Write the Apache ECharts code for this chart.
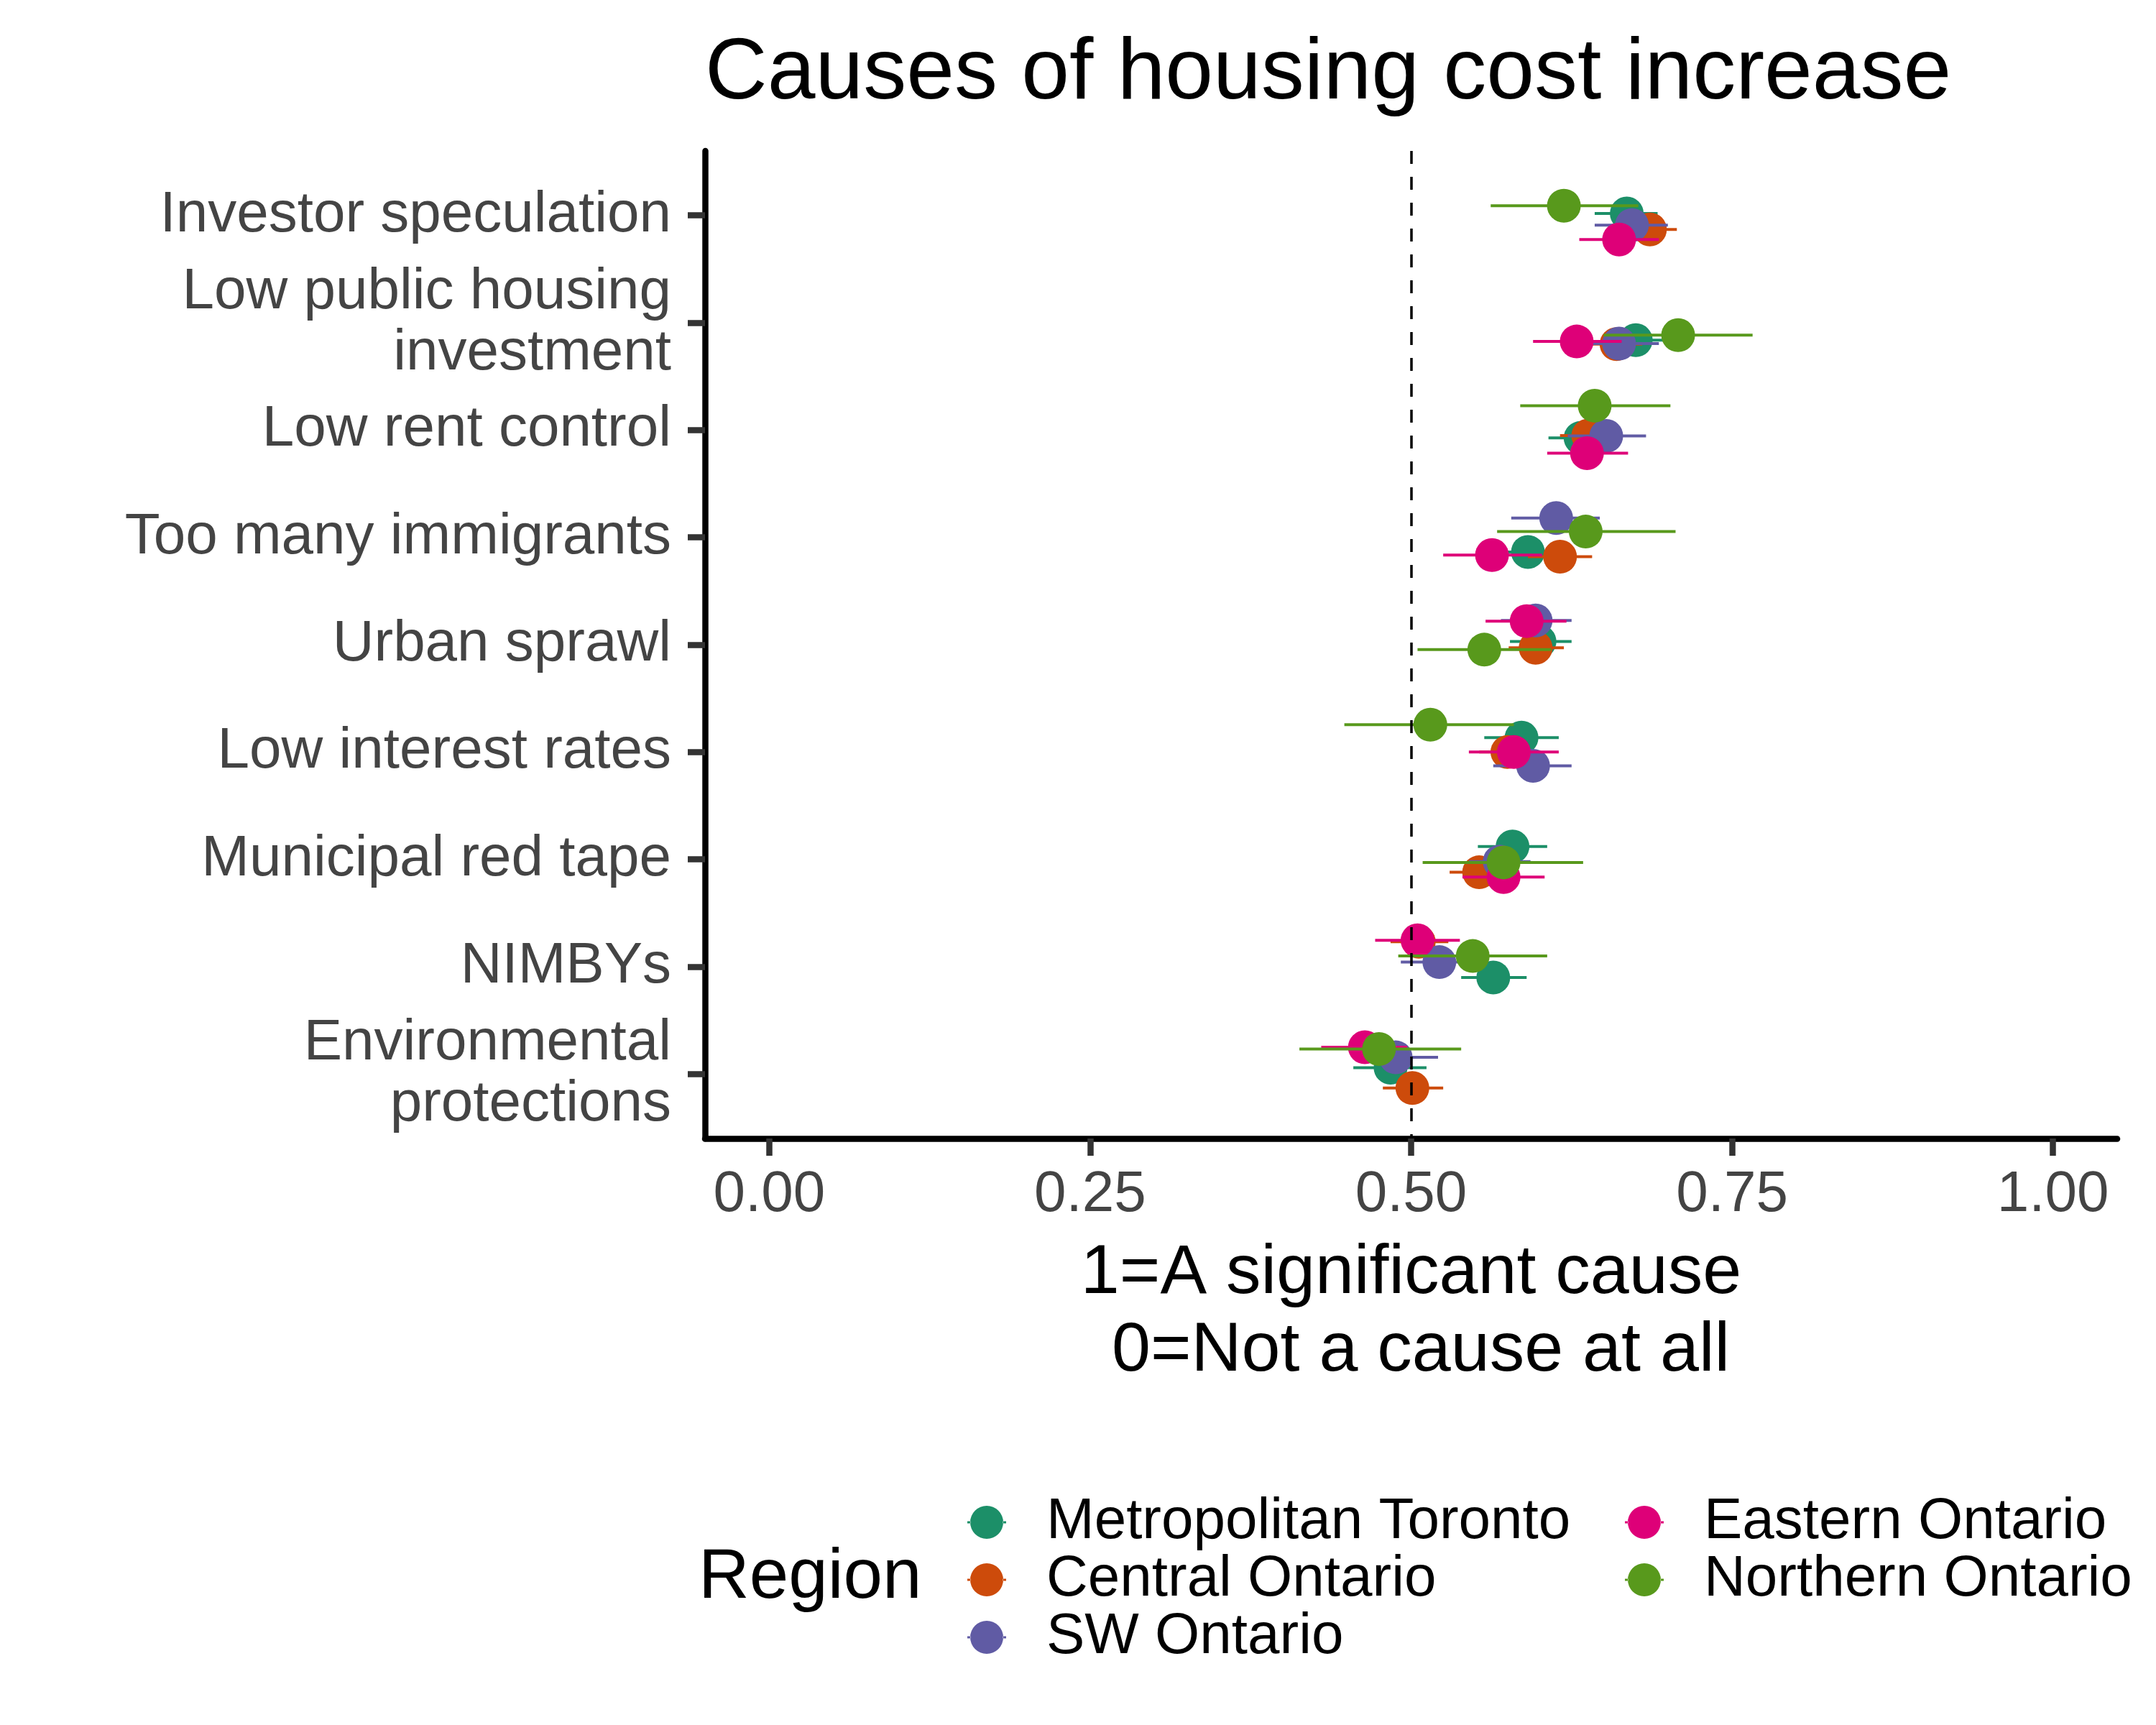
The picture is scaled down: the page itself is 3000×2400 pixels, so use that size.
<!DOCTYPE html>
<html>
<head>
<meta charset="utf-8">
<script src="https://cdn.jsdelivr.net/npm/echarts/dist/echarts.min.js"></script>
<style>
  html, body { margin: 0; padding: 0; background: #fff; }
  #chart { width: 3000px; height: 2400px; }
</style>
</head>
<body>
<div id="chart"></div>
<script>
// causes, top to bottom
const causes = [
    'Investor speculation',
    'Low public housing\ninvestment',
    'Low rent control',
    'Too many immigrants',
    'Urban sprawl',
    'Low interest rates',
    'Municipal red tape',
    'NIMBYs',
    'Environmental\nprotections'
]
const regions = ['Metropolitan Toronto', 'Central Ontario', 'SW Ontario', 'Eastern Ontario', 'Northern Ontario']
const xTicks = [0, 0.25, 0.5, 0.75, 1]

// mean score and interval ends per region, in cause order
const torontoMean = [0.668, 0.675, 0.632, 0.591, 0.600, 0.586, 0.579, 0.564, 0.484]
const torontoLow = [0.643, 0.654, 0.607, 0.571, 0.577, 0.557, 0.552, 0.539, 0.455]
const torontoHigh = [0.692, 0.696, 0.657, 0.611, 0.625, 0.615, 0.606, 0.590, 0.512]

const centralMean = [0.686, 0.660, 0.638, 0.616, 0.597, 0.575, 0.553, 0.506, 0.501]
const centralLow = [0.665, 0.640, 0.616, 0.591, 0.576, 0.553, 0.530, 0.484, 0.478]
const centralHigh = [0.707, 0.680, 0.660, 0.641, 0.619, 0.597, 0.576, 0.529, 0.525]

const swMean = [0.672, 0.662, 0.652, 0.613, 0.597, 0.595, 0.569, 0.522, 0.488]
const swLow = [0.643, 0.631, 0.622, 0.578, 0.570, 0.564, 0.545, 0.492, 0.456]
const swHigh = [0.700, 0.693, 0.683, 0.647, 0.625, 0.625, 0.593, 0.552, 0.521]

const easternMean = [0.662, 0.629, 0.637, 0.563, 0.590, 0.580, 0.572, 0.505, 0.464]
const easternLow = [0.631, 0.595, 0.606, 0.525, 0.558, 0.545, 0.540, 0.472, 0.430]
const easternHigh = [0.693, 0.664, 0.669, 0.602, 0.621, 0.615, 0.604, 0.538, 0.497]

const northernMean = [0.619, 0.708, 0.643, 0.636, 0.557, 0.515, 0.572, 0.548, 0.475]
const northernLow = [0.562, 0.650, 0.585, 0.567, 0.505, 0.448, 0.509, 0.490, 0.413]
const northernHigh = [0.677, 0.766, 0.702, 0.706, 0.609, 0.580, 0.634, 0.606, 0.539]

// vertical jitter of each point, in category units
const torontoJitter = [-0.017, 0.163, 0.074, 0.136, -0.03, -0.134, -0.12, 0.10, -0.06]
const centralJitter = [0.131, 0.20, 0.052, 0.18, 0.028, 0.0, 0.12, -0.233, 0.13]
const swJitter = [0.091, 0.195, 0.055, -0.18, -0.226, 0.128, 0.02, -0.043, -0.156]
const easternJitter = [0.225, 0.175, 0.215, 0.165, -0.22, 0.0, 0.164, -0.246, -0.25]
const northernJitter = [-0.09, 0.116, -0.227, -0.054, 0.046, -0.255, 0.028, -0.10, -0.234]

const colors = ['#1c8f68', '#cd4b0b', '#605ba4', '#de0078', '#58991c']
const font = "'Liberation Sans', Arial, sans-serif"

const regionData = [
    [torontoMean, torontoLow, torontoHigh, torontoJitter],
    [centralMean, centralLow, centralHigh, centralJitter],
    [swMean, swLow, swHigh, swJitter],
    [easternMean, easternLow, easternHigh, easternJitter],
    [northernMean, northernLow, northernHigh, northernJitter]
]

// point with a horizontal interval line
function renderRange(params, api) {
    const y = api.value(3)
    const p = api.coord([api.value(0), y])
    const a = api.coord([api.value(1), y])
    const b = api.coord([api.value(2), y])
    const color = api.visual('color')
    return {
        type: 'group',
        children: [
            {
                type: 'line',
                shape: { x1: a[0], y1: a[1], x2: b[0], y2: b[1] },
                style: { stroke: color, lineWidth: 4 }
            },
            {
                type: 'circle',
                shape: { cx: p[0], cy: p[1], r: 23.5 },
                style: { fill: color }
            }
        ]
    }
}

const series = regions.map((name, k) => {
    const [mean, low, high, jitter] = regionData[k]
    return {
        name: name,
        type: 'custom',
        renderItem: renderRange,
        itemStyle: { color: colors[k] },
        encode: { x: [0, 1, 2], y: 3 },
        data: causes.map((c, i) => [mean[i], low[i], high[i], i + jitter[i]]),
        z: 2
    }
})

// dashed reference line at 0.5
series.push({
    name: 'ref',
    type: 'line',
    data: [],
    silent: true,
    markLine: {
        silent: true,
        symbol: ['none', 'none'],
        label: { show: false },
        lineStyle: { color: '#000', width: 3.5, type: [18, 18] },
        data: [{ xAxis: 0.5 }],
        z: 10
    }
})

const legendIcon = 'path://M0,22.5 L4.5,22.5 L4.5,25.5 L0,25.5 Z M49.5,22.5 L54,22.5 L54,25.5 L49.5,25.5 Z M4,24 A23,23 0 1 0 50,24 A23,23 0 1 0 4,24 Z'

function makeLegend(names, left) {
    return {
        data: names,
        orient: 'vertical',
        left: left,
        top: 2078,
        padding: 0,
        itemGap: 0,
        itemWidth: 54,
        itemHeight: 48,
        icon: legendIcon,
        selectedMode: false,
        textStyle: {
            fontSize: 80,
            fontFamily: font,
            color: '#000',
            lineHeight: 74,
            padding: [0, 0, 0, 51]
        }
    }
}

const myChart = echarts.init(document.getElementById('chart'), null, { renderer: 'canvas' })
myChart.setOption({
    animation: false,
    backgroundColor: '#fff',
    title: {
        text: 'Causes of housing cost increase',
        left: 981,
        top: 44,
        padding: 0,
        textStyle: { fontSize: 120, fontWeight: 'normal', fontFamily: font, color: '#000' }
    },
    grid: { left: 981, right: 54, top: 210, bottom: 816, containLabel: false },
    xAxis: {
        type: 'value',
        min: -0.05,
        max: 1.05,
        splitLine: { show: false },
        axisLine: { onZero: false, lineStyle: { color: '#000', width: 8.5 } },
        axisTick: { customValues: xTicks, length: 24, lineStyle: { color: '#333', width: 8.5 } },
        axisLabel: {
            customValues: xTicks,
            formatter: v => v.toFixed(2),
            margin: 39,
            fontSize: 80,
            fontFamily: font,
            color: '#444'
        },
        name: '1=A significant cause\n 0=Not a cause at all',
        nameLocation: 'middle',
        nameGap: 134,
        nameTextStyle: { fontSize: 97, lineHeight: 108, fontFamily: font, color: '#000', align: 'center' }
    },
    yAxis: {
        type: 'value',
        inverse: true,
        min: -0.6,
        max: 8.6,
        splitLine: { show: false },
        axisLine: { onZero: false, lineStyle: { color: '#000', width: 8.5 } },
        axisTick: { customValues: causes.map((c, i) => i), length: 24, lineStyle: { color: '#333', width: 8.5 } },
        axisLabel: {
            customValues: causes.map((c, i) => i),
            formatter: v => causes[Math.round(v)],
            margin: 47,
            fontSize: 80,
            lineHeight: 85,
            padding: [12, 0, 0, 0],
            fontFamily: font,
            color: '#444',
            align: 'right'
        }
    },
    legend: [makeLegend(regions.slice(0, 3), 1346), makeLegend(regions.slice(3), 2261)],
    graphic: [
        {
            type: 'text',
            style: {
                text: 'Region',
                x: 972,
                y: 2196,
                fill: '#000',
                font: '98px ' + font,
                align: 'left',
                verticalAlign: 'middle'
            }
        }
    ],
    series: series
})
window.addEventListener('resize', myChart.resize)
</script>
</body>
</html>
